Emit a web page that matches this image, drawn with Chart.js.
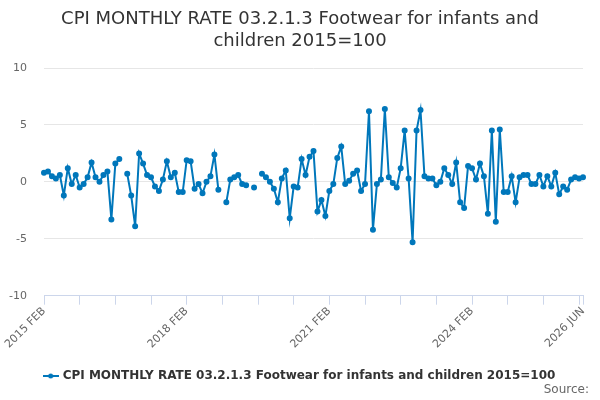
<!DOCTYPE html>
<html>
<head>
<meta charset="utf-8">
<script src="https://cdn.jsdelivr.net/npm/chart.js@4.4.1/dist/chart.umd.min.js"></script>
<style>
  html, body { margin: 0; padding: 0; background: #fff; }
  #wrap { width: 600px; height: 400px; }
</style>
</head>
<body>
<div id="wrap"><canvas id="grafico"></canvas></div>
<script>
// meses de 2015 FEB ate 2026 JUN
const meses = ['JAN', 'FEB', 'MAR', 'APR', 'MAY', 'JUN', 'JUL', 'AUG', 'SEP', 'OCT', 'NOV', 'DEC'];
const categorias = [];
for (let ano = 2015; ano <= 2026; ano++) {
    for (let m = 0; m < 12; m++) {
        if (ano === 2015 && m < 1) continue;
        if (ano === 2026 && m > 5) break;
        categorias.push(ano + ' ' + meses[m]);
    }
}

const taxaMensal = [
    0.8, 0.9, 0.5, 0.3, 0.6, -1.2, 1.2, -0.2, 0.6, -0.5, -0.2, 0.4, 1.7,
    0.4, 0.0, 0.6, 0.9, -3.3, 1.6, 2.0, null, 0.7, -1.2, -3.9, 2.5, 1.6,
    0.6, 0.4, -0.4, -0.8, 0.2, 1.8, 0.4, 0.8, -0.9, -0.9, 1.9,
    1.8, -0.6, -0.2, -1.0, 0.0, 0.5, 2.4, -0.7, null, -1.8, 0.2, 0.4,
    0.6, -0.2, -0.3, null, -0.5, null, 0.7, 0.4, 0.0, -0.6, -1.8, 0.3,
    1.0, -3.2, -0.4, -0.5, 2.0, 0.6, 2.2, 2.7, -2.6, -1.6, -3.0, -0.8,
    -0.2, 2.1, 3.1, -0.2, 0.1, 0.7, 1.0, -0.8, -0.2, 6.2, -4.2, -0.2,
    0.2, 6.4, 0.4, -0.1, -0.5, 1.2, 4.5, 0.3, -5.3, 4.5, 6.3, 0.5,
    0.3, 0.3, -0.3, 0.0, 1.2, 0.6, -0.2, 1.7, -1.8, -2.3, 1.4, 1.2,
    0.2, 1.6, 0.5, -2.8, 4.5, -3.5, 4.6, -0.9, -0.9, 0.5, -1.8, 0.4,
    0.6, 0.6, -0.2, -0.2, 0.6, -0.4, 0.5, -0.4, 0.8, -1.1, -0.4, -0.7,
    0.2, 0.4, 0.3, 0.4
];

const ticksY = [-10, -5, 0, 5, 10];
const nomeSerie = 'CPI MONTHLY RATE 03.2.1.3 Footwear for infants and children 2015=100';
const titulo = ['CPI MONTHLY RATE 03.2.1.3 Footwear for infants and', 'children 2015=100'];
const fonteTexto = 'Source:';

const azul = '#0077bb';
const fonte = "'DejaVu Sans', sans-serif";

// simbolo da legenda: linha com ponto
const simbolo = document.createElement('canvas');
simbolo.width = 16;
simbolo.height = 8;
const sctx = simbolo.getContext('2d');
sctx.strokeStyle = azul;
sctx.lineWidth = 2;
sctx.beginPath();
sctx.moveTo(0, 4);
sctx.lineTo(16, 4);
sctx.stroke();
sctx.fillStyle = azul;
sctx.beginPath();
sctx.arc(8, 4, 2.5, 0, Math.PI * 2);
sctx.fill();

const ultimo = categorias.length - 1;

// texto "Source:" no canto inferior direito
const pluginFonte = {
    id: 'fonteDados',
    afterDraw(chart) {
        const ctx = chart.ctx;
        ctx.save();
        ctx.font = "12px " + fonte;
        ctx.fillStyle = '#666666';
        ctx.textAlign = 'right';
        ctx.textBaseline = 'middle';
        ctx.fillText(fonteTexto, chart.width - 11, 390);
        ctx.restore();
    }
};

new Chart(document.getElementById('grafico'), {
    type: 'line',
    data: {
        labels: categorias,
        datasets: [{
            label: nomeSerie,
            data: taxaMensal,
            borderColor: azul,
            backgroundColor: azul,
            borderWidth: 2,
            pointRadius: 2,
            pointHoverRadius: 3,
            tension: 0,
            spanGaps: false
        }]
    },
    options: {
        responsive: true,
        maintainAspectRatio: false,
        animation: false,
        layout: { padding: { left: 0, right: 0, top: 4, bottom: 8 } },
        scales: {
            x: {
                offset: false,
                afterFit: (eixo) => {
                    // margens fixas da area do grafico
                    eixo.paddingLeft = 44;
                    eixo.paddingRight = 17;
                },
                grid: {
                    drawOnChartArea: false,
                    drawTicks: true,
                    tickLength: 9,
                    color: (ctx) => (ctx.index % 9 === 0 || ctx.index === ultimo) ? '#ccd6eb' : 'rgba(0,0,0,0)'
                },
                border: { display: true, color: '#ccd6eb', width: 1 },
                ticks: {
                    autoSkip: false,
                    maxRotation: 45,
                    minRotation: 45,
                    color: '#666666',
                    font: { family: fonte, size: 11 },
                    padding: 0,
                    callback: function (valor, i) {
                        if (i % 36 === 0 || i === ultimo) return categorias[i];
                        return '';
                    }
                }
            },
            y: {
                min: -10,
                max: 10,
                afterBuildTicks: (eixo) => { eixo.ticks = ticksY.map(v => ({ value: v })); },
                afterFit: (eixo) => { eixo.width = 44; },
                grid: { color: '#e6e6e6', drawTicks: false },
                border: { display: false },
                ticks: {
                    color: '#666666',
                    font: { family: fonte, size: 11 },
                    padding: 17
                }
            }
        },
        plugins: {
            title: {
                display: true,
                text: titulo,
                color: '#333333',
                font: { family: fonte, size: 18, weight: 'normal', lineHeight: 1.25 },
                padding: { top: 4, bottom: 15 }
            },
            legend: {
                position: 'bottom',
                labels: {
                    usePointStyle: true,
                    pointStyle: simbolo,
                    color: '#333333',
                    font: { family: fonte, size: 12, weight: 'bold' },
                    padding: 19
                }
            },
            tooltip: { enabled: false }
        }
    },
    plugins: [pluginFonte]
});
</script>
</body>
</html>
